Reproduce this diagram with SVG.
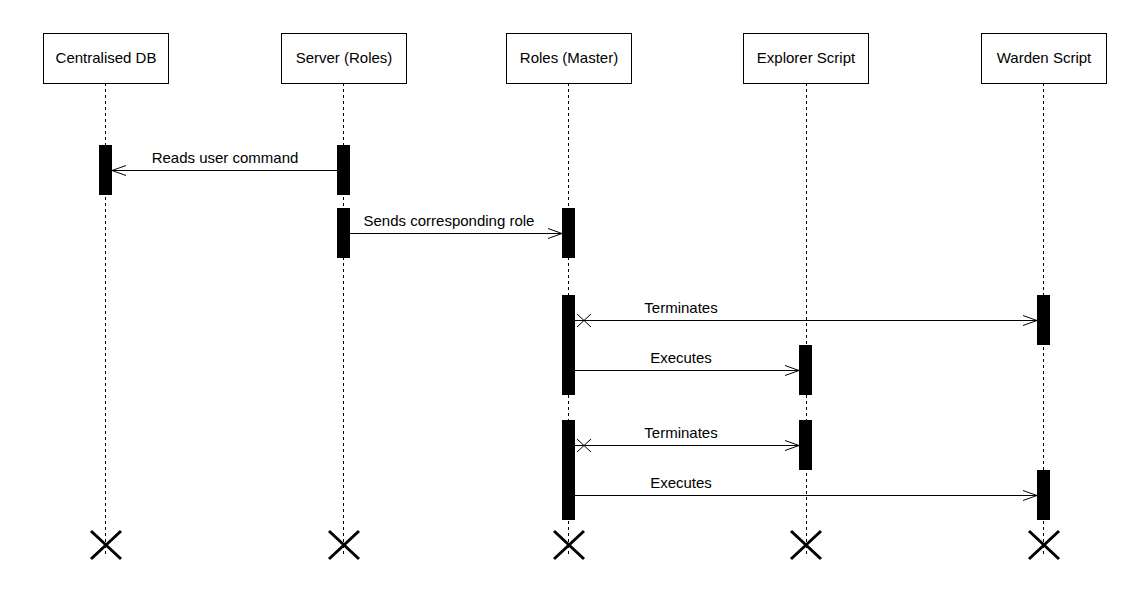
<svg xmlns="http://www.w3.org/2000/svg" width="1147" height="615" viewBox="0 0 1147 615">
<style>
.box{fill:#fff;stroke:#000;stroke-width:1}
.lbl{font-family:"Liberation Sans",Arial,sans-serif;font-size:15px;fill:#000;text-anchor:middle}
.life{stroke:#000;stroke-width:1;stroke-dasharray:3,3}
.act{fill:#000}
.msg{stroke:#000;stroke-width:1;fill:none}
.kill{stroke:#000;stroke-width:3}
</style>
<defs>
<marker id="open" markerWidth="16" markerHeight="12" refX="15" refY="6" orient="auto" markerUnits="userSpaceOnUse">
<path d="M1,1 L15,6 L1,11" fill="none" stroke="#000" stroke-width="1"/>
</marker>
</defs>
<rect width="1147" height="615" fill="#fff"/>
<g id="centralised-db">
<line class="life" x1="105.5" y1="83" x2="105.5" y2="557"/>
<rect class="box" x="43.5" y="33.5" width="125" height="50"/>
<text class="lbl" x="106" y="63">Centralised DB</text>
<rect class="act" x="99" y="145" width="13" height="50"/>
<path class="kill" d="M91,531 L121,559 M121,531 L91,559"/>
</g>
<g id="server-roles">
<line class="life" x1="343.5" y1="83" x2="343.5" y2="557"/>
<rect class="box" x="281.5" y="33.5" width="125" height="50"/>
<text class="lbl" x="344" y="63">Server (Roles)</text>
<rect class="act" x="337" y="145" width="13" height="50"/>
<rect class="act" x="337" y="208" width="13" height="50"/>
<path class="kill" d="M329,531 L359,559 M359,531 L329,559"/>
</g>
<g id="roles-master">
<line class="life" x1="568.5" y1="83" x2="568.5" y2="557"/>
<rect class="box" x="506.5" y="33.5" width="125" height="50"/>
<text class="lbl" x="569" y="63">Roles (Master)</text>
<rect class="act" x="562" y="208" width="13" height="50"/>
<rect class="act" x="562" y="295" width="13" height="100"/>
<rect class="act" x="562" y="420" width="13" height="100"/>
<path class="kill" d="M554,531 L584,559 M584,531 L554,559"/>
</g>
<g id="explorer-script">
<line class="life" x1="806.5" y1="83" x2="806.5" y2="557"/>
<rect class="box" x="743.5" y="33.5" width="125" height="50"/>
<text class="lbl" x="806" y="63">Explorer Script</text>
<rect class="act" x="799" y="345" width="13" height="50"/>
<rect class="act" x="799" y="420" width="13" height="50"/>
<path class="kill" d="M791,531 L821,559 M821,531 L791,559"/>
</g>
<g id="warden-script">
<line class="life" x1="1043.5" y1="83" x2="1043.5" y2="557"/>
<rect class="box" x="981.5" y="33.5" width="125" height="50"/>
<text class="lbl" x="1044" y="63">Warden Script</text>
<rect class="act" x="1037" y="295" width="13" height="50"/>
<rect class="act" x="1037" y="470" width="13" height="50"/>
<path class="kill" d="M1029,531 L1059,559 M1059,531 L1029,559"/>
</g>
<g id="connectors">
<line class="msg" x1="337" y1="170.5" x2="112" y2="170.5" marker-end="url(#open)"/>
<text class="lbl" x="225" y="163">Reads user command</text>
<line class="msg" x1="350" y1="233.5" x2="562" y2="233.5" marker-end="url(#open)"/>
<text class="lbl" x="449" y="226">Sends corresponding role</text>
<line class="msg" x1="575" y1="320.5" x2="1037" y2="320.5" marker-end="url(#open)"/>
<path class="msg" d="M577,314 L591,327 M591,314 L577,327"/>
<text class="lbl" x="681" y="313">Terminates</text>
<line class="msg" x1="575" y1="370.5" x2="799" y2="370.5" marker-end="url(#open)"/>
<text class="lbl" x="681" y="363">Executes</text>
<line class="msg" x1="575" y1="445.5" x2="799" y2="445.5" marker-end="url(#open)"/>
<path class="msg" d="M577,439 L591,452 M591,439 L577,452"/>
<text class="lbl" x="681" y="438">Terminates</text>
<line class="msg" x1="575" y1="495.5" x2="1037" y2="495.5" marker-end="url(#open)"/>
<text class="lbl" x="681" y="488">Executes</text>
</g>
</svg>
